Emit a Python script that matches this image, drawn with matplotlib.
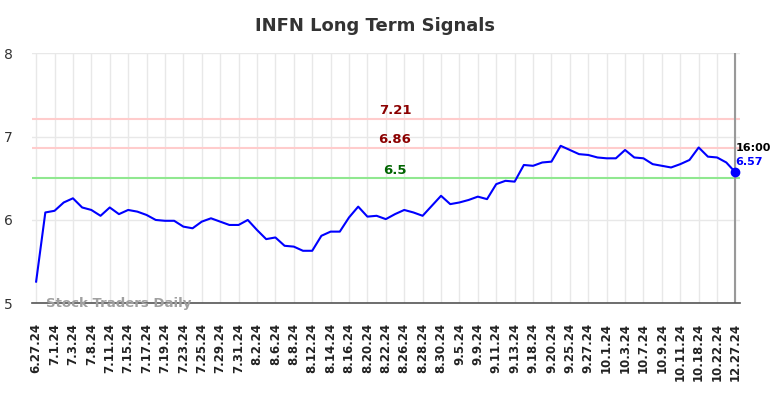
import matplotlib
matplotlib.use('Agg')
import matplotlib.pyplot as plt

ticker = 'INFN'

tick_labels = ['6.27.24', '7.1.24', '7.3.24', '7.8.24', '7.11.24', '7.15.24', '7.17.24',
               '7.19.24', '7.23.24', '7.25.24', '7.29.24', '7.31.24', '8.2.24', '8.6.24',
               '8.8.24', '8.12.24', '8.14.24', '8.16.24', '8.20.24', '8.22.24', '8.26.24',
               '8.28.24', '8.30.24', '9.5.24', '9.9.24', '9.11.24', '9.13.24', '9.18.24',
               '9.20.24', '9.25.24', '9.27.24', '10.1.24', '10.3.24', '10.7.24', '10.9.24',
               '10.11.24', '10.18.24', '10.22.24', '12.27.24']

prices = [5.26, 6.09, 6.11, 6.21, 6.26, 6.15, 6.12, 6.05, 6.15, 6.07,
          6.12, 6.10, 6.06, 6.00, 5.99, 5.99, 5.92, 5.90, 5.98, 6.02,
          5.98, 5.94, 5.94, 6.00, 5.88, 5.77, 5.79, 5.69, 5.68, 5.63,
          5.63, 5.81, 5.86, 5.86, 6.03, 6.16, 6.04, 6.05, 6.01, 6.07,
          6.12, 6.09, 6.05, 6.17, 6.29, 6.19, 6.21, 6.24, 6.28, 6.25,
          6.43, 6.47, 6.46, 6.66, 6.65, 6.69, 6.70, 6.89, 6.84, 6.79,
          6.78, 6.75, 6.74, 6.74, 6.84, 6.75, 6.74, 6.67, 6.65, 6.63,
          6.67, 6.72, 6.87, 6.76, 6.75, 6.69, 6.57]

resistance = [7.21, 6.86]
support = [6.5]
last_time = '16:00'

x = list(range(len(prices)))
tick_pos = x[::2]

fig = plt.figure(figsize=(7.84, 3.98), dpi=100)
ax = fig.add_axes([0.0408, 0.238, 0.9032, 0.628])

ax.set_xlim(-0.45, 76.5)
ax.set_ylim(5, 8)

for xp in tick_pos:
    ax.axvline(xp, color='#e8e8e8', linewidth=1, zorder=0)
for yv in [5, 6, 7, 8]:
    ax.axhline(yv, color='#e8e8e8', linewidth=1, zorder=0)

for r in resistance:
    ax.axhline(r, color='#ffcccc', linewidth=1.5, zorder=1)
    ax.text(39, r + 0.03, f'{r}', color='#8b0000', fontsize=9.5, fontweight='bold',
            ha='center', va='bottom')
for s in support:
    ax.axhline(s, color='#90e890', linewidth=1.5, zorder=1)
    ax.text(39, s + 0.02, f'{s}', color='#006400', fontsize=9.5, fontweight='bold',
            ha='center', va='bottom')

ax.axvline(x[-1], color='#999999', linewidth=1.5, zorder=1)
ax.plot(x, prices, color='#0000ff', linewidth=1.5, zorder=3)
ax.plot(x[-1], prices[-1], 'o', color='#0000ff', markersize=6, zorder=4)

ax.text(x[-1], prices[-1] + 0.29, last_time, fontsize=8, fontweight='bold',
        color='black', ha='left', va='center')
ax.text(x[-1], prices[-1] + 0.13, f'{prices[-1]}', fontsize=8, fontweight='bold',
        color='#0000ff', ha='left', va='center')

ax.text(1.1, 5.0, 'Stock Traders Daily', fontsize=9.5, fontweight='bold',
        color='#a0a0a0', ha='left', va='center', zorder=5)

for sp in ['top', 'left', 'right']:
    ax.spines[sp].set_visible(False)
ax.spines['bottom'].set_color('#555555')
ax.spines['bottom'].set_linewidth(1.2)

ax.set_xticks(tick_pos)
ax.set_xticklabels(tick_labels, rotation=90, fontsize=8.5, fontweight='bold', color='#222222')
ax.set_yticks([5, 6, 7, 8])
ax.set_yticklabels(['5', '6', '7', '8'], fontsize=10, color='#333333')
ax.tick_params(axis='both', length=0)
ax.tick_params(axis='x', pad=14)
ax.tick_params(axis='y', pad=14)

fig.text(375 / 784, 1 - 26 / 398, f'{ticker} Long Term Signals', fontsize=13,
         fontweight='bold', color='#333333', ha='center', va='center')

plt.savefig('out.png', dpi=100, facecolor='white')
plt.close()
